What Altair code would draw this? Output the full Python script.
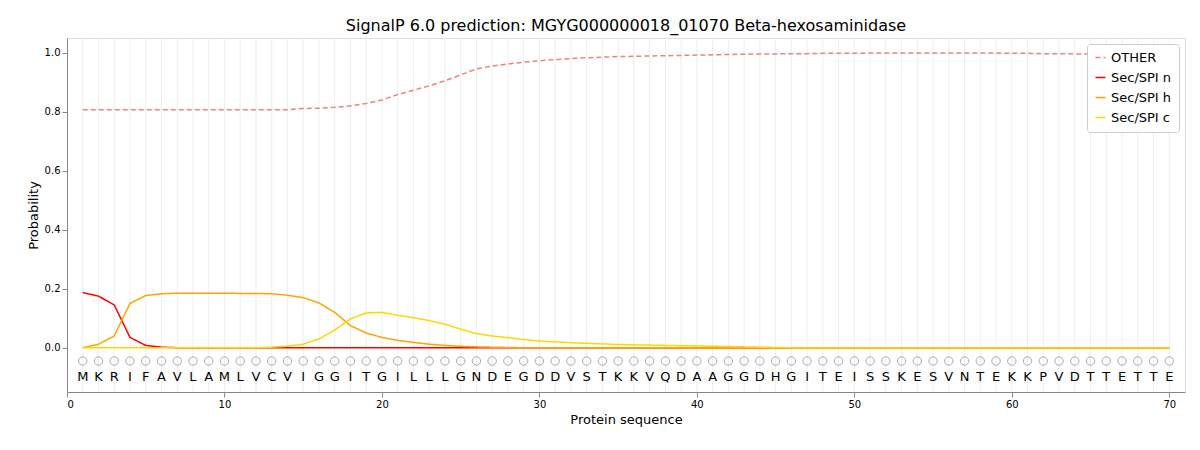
import altair as alt
import pandas as pd

sequence = list("MKRIFAVLAMLVCVIGGITGILLLGNDEGDDVSTKKVQDAAGGDHGITEISSKESVNTEKKPVDTTETTE")
positions = list(range(1, 71))

other = [0.807] * 14 + [0.811, 0.812, 0.815, 0.82, 0.828, 0.84, 0.858, 0.873, 0.888, 0.905,
         0.925, 0.945, 0.955, 0.962, 0.968, 0.973, 0.977, 0.98, 0.983, 0.985,
         0.987, 0.988, 0.989, 0.99, 0.991, 0.992, 0.993, 0.994, 0.995, 0.996,
         0.996, 0.997, 0.997, 0.998, 0.998, 0.998, 0.999, 0.999, 0.999, 0.999,
         0.999, 0.999, 0.999, 0.999, 0.999, 0.998, 0.998, 0.997, 0.997, 0.996,
         0.996, 0.995, 0.995, 0.995, 0.995, 0.995]
sec_n = [0.187, 0.175, 0.145, 0.035, 0.008, 0.002] + [0.0] * 64
sec_h = [0.0, 0.012, 0.04, 0.15, 0.177, 0.183, 0.185, 0.185, 0.185, 0.185,
         0.184, 0.184, 0.183, 0.178, 0.17, 0.152, 0.12, 0.075, 0.05, 0.035,
         0.025, 0.018, 0.012, 0.008, 0.005, 0.003, 0.002, 0.001] + [0.0] * 42
sec_c = [0.0] * 12 + [0.002, 0.005, 0.012, 0.03, 0.06, 0.098, 0.118, 0.12,
         0.11, 0.102, 0.092, 0.08, 0.063, 0.048, 0.04, 0.034, 0.028, 0.023,
         0.02, 0.017, 0.015, 0.013, 0.011, 0.01, 0.009, 0.008, 0.007, 0.006,
         0.005, 0.004, 0.003, 0.002, 0.001] + [0.0] * 25

labels = ["OTHER", "Sec/SPI n", "Sec/SPI h", "Sec/SPI c"]
rows = []
for lab, vals in zip(labels, [other, sec_n, sec_h, sec_c]):
    for p, v in zip(positions, vals):
        rows.append({"pos": p, "prob": v, "label": lab})
lines_df = pd.DataFrame(rows)
seq_df = pd.DataFrame({"pos": positions, "aa": sequence})

xs = alt.Scale(domain=[0, 71], nice=False, zero=False)
ys = alt.Scale(domain=[-0.15, 1.05], nice=False)

grid = alt.Chart(seq_df).mark_rule(color="#eeeeee", strokeWidth=1).encode(
    x=alt.X("pos:Q", scale=xs)
)

lines = alt.Chart(lines_df).mark_line(strokeWidth=1.5).encode(
    x=alt.X("pos:Q", scale=xs,
            axis=alt.Axis(values=[0, 10, 20, 30, 40, 50, 60, 70], grid=False,
                          title="Protein sequence", titleFontWeight="normal", titleFontSize=13)),
    y=alt.Y("prob:Q", scale=ys,
            axis=alt.Axis(values=[0, 0.2, 0.4, 0.6, 0.8, 1.0], format=".1f", grid=False,
                          title="Probability", titleFontWeight="normal", titleFontSize=13)),
    color=alt.Color("label:N", sort=labels, title=None,
                    scale=alt.Scale(domain=labels, range=["#f08080", "#ff0000", "#ffa500", "#ffd700"]),
                    legend=alt.Legend(orient="top-right", offset=6, symbolType="stroke", labelFontSize=13,
                                      strokeColor="#cccccc", fillColor="white", padding=7,
                                      cornerRadius=3, symbolStrokeWidth=1.5, rowPadding=6)),
    strokeDash=alt.StrokeDash("label:N", sort=labels, legend=None,
                              scale=alt.Scale(domain=labels, range=[[5, 3], [1, 0], [1, 0], [1, 0]])),
    order=alt.Order("pos:Q"),
)

circles = alt.Chart(seq_df).mark_point(shape="circle", size=70, color="#888888", strokeWidth=1).encode(
    x=alt.X("pos:Q", scale=xs), y=alt.datum(-0.045, scale=ys)
)
letters = alt.Chart(seq_df).mark_text(fontSize=13, color="black").encode(
    x=alt.X("pos:Q", scale=xs), y=alt.datum(-0.1, scale=ys), text="aa:N"
)

chart = (grid + lines + circles + letters).properties(
    width=1118, height=354,
    title=alt.Title("SignalP 6.0 prediction: MGYG000000018_01070 Beta-hexosaminidase",
                    fontSize=16, fontWeight="normal"),
    autosize=alt.AutoSizeParams(type="none"),
    padding={"left": 59, "top": 30, "right": 7, "bottom": 50},
).configure_axis(labelFontSize=12, tickColor="black",
                 domainColor="black", labelColor="black").configure_view(stroke="black").configure(
    font="DejaVu Sans")

chart.save("out.html", embed_options={"renderer": "svg", "actions": False})
